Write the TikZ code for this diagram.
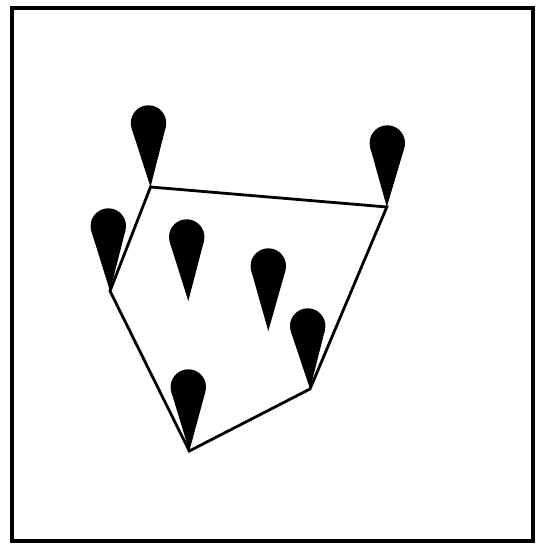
\documentclass[tikz,border=0pt]{standalone}
\usetikzlibrary{calc}
\tikzset{
  edgeline/.style={line width=2.8pt, line join=miter, black},
  framebox/.style={line width=4pt, black},
  pinfill/.style={fill=black},
}
\newcommand{\pinR}{17.7}
\newcommand{\drawpin}[5]{%
  \pgfmathsetmacro{\pdx}{#3-#1}%
  \pgfmathsetmacro{\pdy}{#4-#2}%
  \pgfmathsetmacro{\pdd}{veclen(\pdx,\pdy)}%
  \pgfmathsetmacro{\pang}{atan2(\pdy,\pdx)}%
  \pgfmathsetmacro{\pth}{acos(\pinR/\pdd)}%
  \coordinate (c#5) at (#1,#2);
  \coordinate (t#5) at (#3,#4);
  \fill[pinfill] (c#5) circle (\pinR);
  \fill[pinfill] (t#5) -- ($(c#5)+(\pang+\pth:\pinR)$) -- ($(c#5)+(\pang-\pth:\pinR)$) -- cycle;
}
\begin{document}
\begin{tikzpicture}[x=1pt,y=-1pt]
  \useasboundingbox (0,0) rectangle (538,544);
  \fill[white] (0,0) rectangle (538,544);
  \draw[framebox] (12,8) rectangle (533,541);
  \drawpin{148.5}{123}{150.5}{187}{1}
  \drawpin{387.3}{143}{386.8}{207}{2}
  \drawpin{108.3}{226}{110}{291}{3}
  \drawpin{186.7}{237}{188.3}{301}{4}
  \drawpin{268.3}{266}{268.3}{331}{5}
  \drawpin{307.7}{326}{310}{389}{6}
  \drawpin{188.3}{387}{189.3}{451}{7}
  \draw[edgeline] (t1) -- (t2) -- (t6) -- (t7) -- (t3) -- cycle;
\end{tikzpicture}
\end{document}
